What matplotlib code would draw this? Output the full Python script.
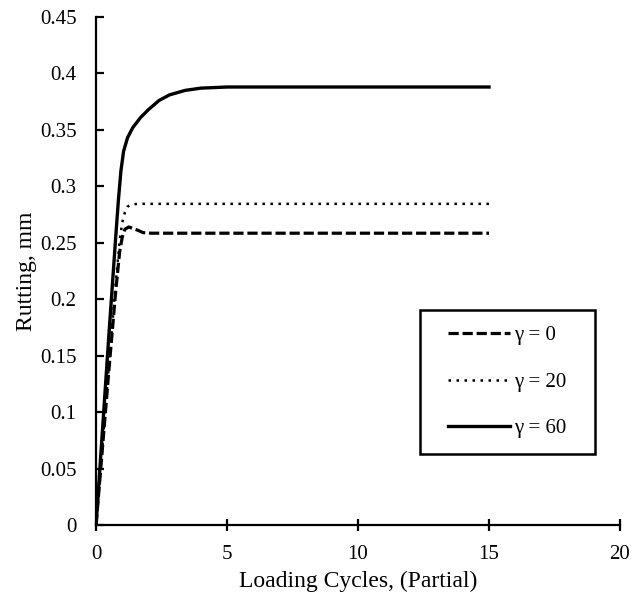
import matplotlib
matplotlib.use("Agg")
import matplotlib.pyplot as plt
from matplotlib.patches import Rectangle

plt.rcParams['font.family'] = ['Liberation Serif', 'DejaVu Serif']

# Rutting development for three gamma values
x_g0 = [0, 0.25, 0.5, 0.75, 0.9, 1.0, 1.1, 1.25, 1.5, 1.8, 2.1, 3, 5, 10, 15]
y_g0 = [0, 0.070, 0.140, 0.207, 0.242, 0.255, 0.262, 0.264, 0.262, 0.259, 0.2585, 0.2585, 0.2585, 0.2585, 0.2585]

x_g20 = [0, 0.25, 0.5, 0.75, 0.9, 1.0, 1.1, 1.2, 1.35, 1.6, 2, 3, 5, 10, 15]
y_g20 = [0, 0.072, 0.145, 0.214, 0.252, 0.268, 0.277, 0.282, 0.284, 0.2845, 0.2845, 0.2845, 0.2845, 0.2845, 0.2845]

x_g60 = [0, 0.25, 0.5, 0.75, 0.85, 0.95, 1.05, 1.2, 1.4, 1.7, 2.0, 2.4, 2.8, 3.4, 4.0, 5.0, 6, 8, 10, 12, 15]
y_g60 = [0, 0.086, 0.172, 0.255, 0.287, 0.314, 0.331, 0.343, 0.352, 0.361, 0.368, 0.376, 0.381, 0.385, 0.387, 0.388, 0.388, 0.388, 0.388, 0.388, 0.388]

labels = ['\u03b3 = 0', '\u03b3 = 20', '\u03b3 = 60']
x_ticks = [0, 5, 10, 15, 20]
y_ticks = [0, 0.05, 0.1, 0.15, 0.2, 0.25, 0.3, 0.35, 0.4, 0.45]
y_tick_labels = ['0', '0.05', '0.1', '0.15', '0.2', '0.25', '0.3', '0.35', '0.4', '0.45']

fig = plt.figure(figsize=(6.32, 5.95), dpi=100)
ax = fig.add_axes([0.152, 0.1176, 0.829, 0.8538])

ax.plot(x_g0, y_g0, color='black', lw=2.3, linestyle=(0, (3.2, 1.2)), label=labels[0])
ax.plot(x_g20, y_g20, color='black', lw=1.8, linestyle=(0, (1, 2.2)), label=labels[1])
ax.plot(x_g60, y_g60, color='black', lw=2.4, linestyle='-', label=labels[2])

ax.set_xlim(0, 20)
ax.set_ylim(0, 0.45)
ax.set_xticks(x_ticks)
ax.set_yticks(y_ticks)
ax.set_yticklabels(y_tick_labels)

for side in ('top', 'right'):
    ax.spines[side].set_visible(False)
for side in ('left', 'bottom'):
    ax.spines[side].set_linewidth(1.6)
    ax.spines[side].set_color('black')

ax.tick_params(axis='x', direction='inout', length=9, width=1.6, labelsize=15, pad=10)
ax.tick_params(axis='y', direction='in', length=6, width=1.6, labelsize=15, pad=14)

ax.set_xlabel('Loading Cycles, (Partial)', fontsize=17, labelpad=5)
ax.set_ylabel('Rutting, mm', fontsize=17, labelpad=2)

# Legend box drawn as a plain rectangle, entries centred inside it
bx0, by0, bw, bh = 0.618, 0.140, 0.334, 0.283
ax.add_patch(Rectangle((bx0, by0), bw, bh, transform=ax.transAxes,
                       fill=False, edgecolor='black', lw=1.8, clip_on=False, zorder=5))
leg = ax.legend(loc='center', bbox_to_anchor=(bx0, by0, bw, bh), frameon=False,
                fontsize=15, handlelength=3.0, handletextpad=0.2, labelspacing=1.3,
                borderpad=0.3)

fig.savefig('out.png', dpi=100)
